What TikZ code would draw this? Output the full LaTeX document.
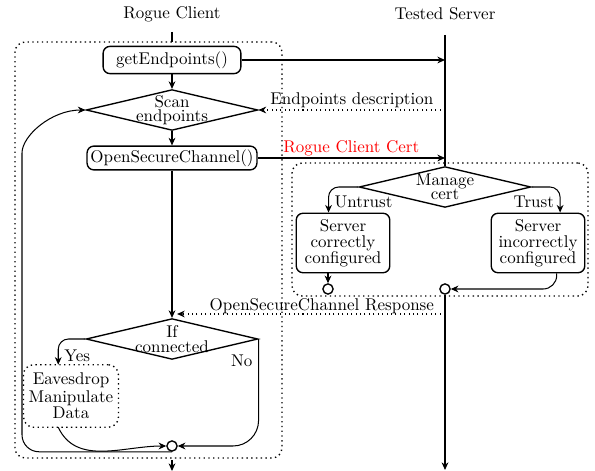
\documentclass[tikz,border=0pt]{standalone}
\usepackage{amsmath}
\usepackage{tikz}
\usetikzlibrary{backgrounds, fit}
\usetikzlibrary{positioning}
\usetikzlibrary{arrows.meta}
\usetikzlibrary{shapes.geometric}
\definecolor{certred}{rgb}{1,0,0}

\begin{document}
\begin{tikzpicture}[
            x = 0.588pt, y = -0.588pt, % pixel grid, y going down
            > = {Stealth[length = 4.5pt, width = 4pt]}, % arrow head style
            semithick % line style
        ]

        \tikzstyle{action}=[
            draw,
            thick,
            rounded corners = 4pt,
            align = center,
            inner xsep = 2pt,
            inner ysep = 3pt
        ]
        \tikzstyle{decision}=[
            draw,
            thick,
            diamond,
            inner sep = 0pt,
            minimum width = 101pt,
            minimum height = 24pt
        ]
        \tikzstyle{junction}=[
            draw,
            thick,
            circle,
            fill = white,
            inner sep = 0pt,
            minimum size = 6pt
        ]
        \tikzstyle{lane}=[
            draw,
            dotted,
            thick,
            rounded corners = 6pt,
            inner sep = 0pt
        ]

        \useasboundingbox (0,0) rectangle (595,471);

	% titles
        \node (RC) at (172,14) {Rogue Client};
        \node (TS) at (445,14) {Tested Server};

        \coordinate (cliTop) at (172,32);
        \coordinate (cliBot) at (172,471);
        \coordinate (srvTop) at (445,35);
        \coordinate (srvBot) at (445,470);
        \coordinate (srvEP) at (445,110);
        \coordinate (srvResp) at (445,314);
        \coordinate (loopL) at (22,170);

	% client side
        \node[action, minimum width = 81pt, minimum height = 16pt] (GE) at (172,60) {getEndpoints()};
        \node[decision, label = {[align = center]center:Scan\\[-3.5pt]endpoints}] (SC) at (172,110) {};
        \node[action, inner ysep = 2pt] (OSC) at (172,158) {OpenSecureChannel()};
        \node[decision, label = {[align = center]center:If\\[-3pt]connected}] (IC) at (172,339) {};
        \node[action, draw = none, minimum width = 55pt, minimum height = 36pt] (ED) at (71,396) {Eavesdrop\\[-1.5pt]Manipulate\\[-2.5pt]Data};
        \node[junction] (M) at (172,446) {};

	% server side
        \node[decision, label = {[align = center]center:Manage\\[-3.5pt]cert}] (MC) at (445,187) {};
        \node[action, minimum width = 55pt, minimum height = 35pt] (OK) at (343,243) {Server\\[-2.5pt]correctly\\[-2.5pt]configured};
        \node[action, minimum width = 55pt, minimum height = 35pt] (KO) at (538,243) {Server\\[-2.5pt]incorrectly\\[-2.5pt]configured};
        \node[junction] (J1) at (328,289) {};
        \node[junction] (J2) at (445,289) {};

	% lifelines
        \draw[shorten > = 2pt] (cliTop) -- (GE.north);
        \draw (srvTop) -- (MC.north);
        \draw[->] (J2) -- (srvBot);
        \draw[->, shorten < = 5pt] (M.south) -- (cliBot);

	% messages
        \draw[->] (GE.east) -- (GE.east -| srvTop);
        \draw[->, dotted] (srvEP) -- node[above, inner sep = 1pt] {Endpoints description} (SC.east);
        \draw[->] (OSC.east) -- node[above, inner sep = 1pt, text = certred] {Rogue Client Cert} (OSC.east -| srvTop);
        \draw[->, dotted] (srvResp) -- node[above, pos = 0.46, inner sep = 0pt] {OpenSecureChannel Response} ([xshift = 3pt]srvResp -| IC.north);

	% client flow
        \draw[->] (GE) -- (SC);
        \draw[->] (SC) -- (OSC);
        \draw[->] (OSC) -- (IC);
        \draw[->, rounded corners = 6pt] (IC.west) -| node[right, pos = 0.83] {Yes} ([xshift = -7.5pt]ED.north);
        \draw[->, rounded corners = 15pt] (IC.east) |- node[left, pos = 0.1] {No} (M.east);
        \draw[->] ([xshift = -7.5pt]ED.south) to[out = -65, in = 180] (M.west);
        \draw[->, rounded corners = 10pt] (M.south) -| (loopL) to[out = 90, in = 180] (SC.west);

	% server flow
        \draw[->, rounded corners = 6pt] (MC.west) -| node[right, pos = 0.8] {Untrust} ([xshift = -8.5pt]OK.north);
        \draw[->, rounded corners = 6pt] (MC.east) -| node[left, pos = 0.8] {Trust} ([xshift = 13pt]KO.north);
        \draw[->] (OK.south -| J1) -- (J1);
        \draw[->, rounded corners = 8pt] ([xshift = 11pt]KO.south) |- (J2);

	% boxes
        \coordinate (cliNW) at (15,42);
        \coordinate (cliSE) at (282,458);
        \coordinate (srvNW) at (292,163);
        \coordinate (srvSE) at (588,296);
        \begin{scope}[on background layer]
   \node [fit = (cliNW) (cliSE), lane] {};
   \node [fit = (srvNW) (srvSE), lane] {};
   \node [fit = (ED), lane] {};
        \end{scope}

\end{tikzpicture}
\end{document}
